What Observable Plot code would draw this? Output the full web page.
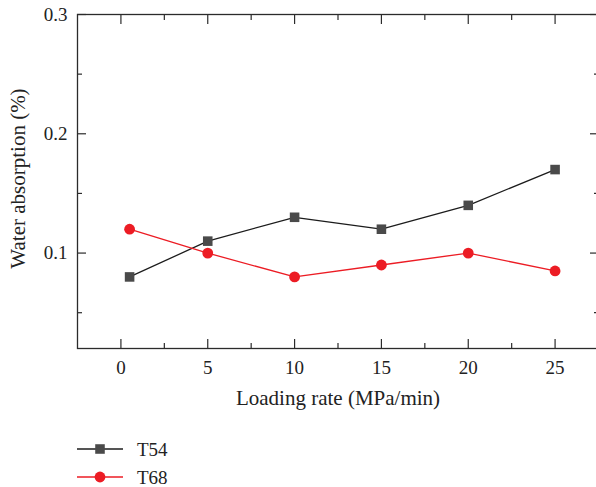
<!DOCTYPE html>
<html>
<head>
<meta charset="utf-8">
<script src="https://cdn.jsdelivr.net/npm/d3@7"></script>
<script src="https://cdn.jsdelivr.net/npm/@observablehq/plot@0.6"></script>
<style>
  body { margin: 0; background: #fff; width: 596px; overflow: hidden; font-family: "Liberation Serif", serif; }
  #legend { display: block; }
</style>
</head>
<body>
<div id="chart"></div>
<svg id="legend" width="596" height="67"></svg>
<script>
// Loading rate (MPa/min) and water absorption (%) for the two specimens
const loadingRate = [0.5, 5, 10, 15, 20, 25];
const t54 = [0.08, 0.11, 0.13, 0.12, 0.14, 0.17];
const t68 = [0.12, 0.10, 0.08, 0.09, 0.10, 0.085];

const seriesNames = ["T54", "T68"];
const lineColors = ["#1c1c1c", "#ec1c24"];
const markerColors = ["#4a4a4a", "#ec1c24"];
const markerSymbols = ["square", "circle"];

const xTicks = [0, 5, 10, 15, 20, 25];
const xMinorTicks = [2.5, 7.5, 12.5, 17.5, 22.5];
const yTicks = [0.1, 0.2, 0.3];
const yMinorTicks = [0.05, 0.15, 0.25];

const xLabel = "Loading rate (MPa/min)";
const yLabel = "Water absorption (%)";

const seriesValues = [t54, t68];
const rows = seriesNames.flatMap((name, i) =>
  loadingRate.map((x, j) => ({series: name, x, y: seriesValues[i][j]}))
);

const axisColor = "#2b2b2b";
const blank = () => "";

const chart = Plot.plot({
  width: 596,
  height: 420,
  marginTop: 14,
  marginBottom: 72,
  marginLeft: 77,
  marginRight: -2,
  style: {fontFamily: "Liberation Serif, serif", fontSize: "19px", color: "#222", background: "#fff"},
  x: {domain: [-2.5, 27.5], axis: null},
  y: {domain: [0.02, 0.3], axis: null},
  color: {domain: seriesNames, range: lineColors},
  marks: [
    // inward-pointing ticks on all four sides
    Plot.axisX(xTicks, {anchor: "bottom", tickSize: -9, tickFormat: blank, label: null, stroke: axisColor, strokeWidth: 1.2}),
    Plot.axisX(xMinorTicks, {anchor: "bottom", tickSize: -5, tickFormat: blank, label: null, stroke: axisColor, strokeWidth: 1.2}),
    Plot.axisX(xTicks, {anchor: "top", tickSize: -9, tickFormat: blank, label: null, stroke: axisColor, strokeWidth: 1.2}),
    Plot.axisX(xMinorTicks, {anchor: "top", tickSize: -5, tickFormat: blank, label: null, stroke: axisColor, strokeWidth: 1.2}),
    Plot.axisY(yTicks, {anchor: "left", tickSize: -9, tickFormat: blank, label: null, stroke: axisColor, strokeWidth: 1.2}),
    Plot.axisY(yMinorTicks, {anchor: "left", tickSize: -5, tickFormat: blank, label: null, stroke: axisColor, strokeWidth: 1.2}),
    Plot.axisY(yTicks, {anchor: "right", tickSize: -9, tickFormat: blank, label: null, stroke: axisColor, strokeWidth: 1.2}),
    Plot.axisY(yMinorTicks, {anchor: "right", tickSize: -5, tickFormat: blank, label: null, stroke: axisColor, strokeWidth: 1.2}),
    // tick labels
    Plot.axisX(xTicks, {anchor: "bottom", tickSize: 0, tickPadding: 12, label: null, fontSize: 19, fill: "#222"}),
    Plot.axisY(yTicks, {anchor: "left", tickSize: 0, tickPadding: 10, tickFormat: d3.format(".1f"), label: null, fontSize: 19, fill: "#222"}),
    Plot.frame({stroke: axisColor, strokeWidth: 1.3}),
    // axis titles
    Plot.text([xLabel], {text: d => d, frameAnchor: "bottom", lineAnchor: "middle", dy: 50, fontSize: 21, fill: "#222"}),
    Plot.text([yLabel], {text: d => d, frameAnchor: "left", textAnchor: "middle", rotate: -90, dx: -59, dy: -3, fontSize: 21, fill: "#222"}),
    // series
    Plot.line(rows, {x: "x", y: "y", z: "series", stroke: "series", strokeWidth: 1.3}),
    ...seriesNames.map((name, i) =>
      Plot.dot(rows.filter(d => d.series === name), {
        x: "x", y: "y", r: 5.4, symbol: markerSymbols[i], fill: markerColors[i], stroke: "none"
      })
    )
  ]
});
document.getElementById("chart").appendChild(chart);

// Legend drawn below the chart
const legend = d3.select("#legend");
const rowGap = 28;
seriesNames.forEach((name, i) => {
  const g = legend.append("g").attr("transform", `translate(0, ${29 + i * rowGap})`);
  g.append("line").attr("x1", 77).attr("x2", 123).attr("y1", 0).attr("y2", 0)
    .attr("stroke", lineColors[i]).attr("stroke-width", 1.3);
  g.append("path").attr("transform", "translate(100,0)")
    .attr("d", d3.symbol(markerSymbols[i] === "square" ? d3.symbolSquare : d3.symbolCircle, Math.PI * 5.4 * 5.4)())
    .attr("fill", markerColors[i]);
  g.append("text").attr("x", 137).attr("y", 0).attr("dy", "0.35em")
    .attr("font-size", 19).attr("fill", "#222").text(name);
});
</script>
</body>
</html>
